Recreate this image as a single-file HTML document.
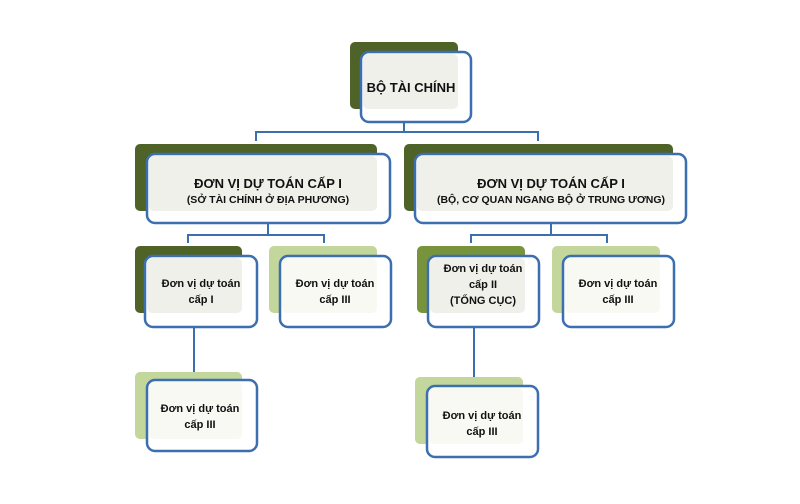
<!DOCTYPE html>
<html><head><meta charset="utf-8"><style>html,body{margin:0;padding:0;background:#fff}svg{display:block}text{font-family:"Liberation Sans",sans-serif;font-weight:bold;fill:#111;text-anchor:middle}</style></head><body>
<svg width="800" height="504" viewBox="0 0 800 504" xmlns="http://www.w3.org/2000/svg">
<g fill="none" stroke="#3b6fb0" stroke-width="2">
<polyline points="404,122 404,132"/><polyline points="256,141 256,132 538,132 538,141"/>
<polyline points="268,223 268,235"/><polyline points="188,243 188,235 324,235 324,243"/>
<polyline points="551,223 551,235"/><polyline points="471,243 471,235 607,235 607,243"/>
<line x1="194" y1="327" x2="194" y2="380"/><line x1="474" y1="327" x2="474" y2="386"/>
</g>
<!-- back boxes -->
<rect x="350" y="42" width="108" height="67" rx="5" fill="#4f6228"/>
<rect x="135" y="144" width="242" height="67" rx="5" fill="#4f6228"/>
<rect x="404" y="144" width="269" height="67" rx="5" fill="#4f6228"/>
<rect x="135" y="246" width="107" height="67" rx="5" fill="#4f6228"/>
<rect x="269" y="246" width="108" height="67" rx="5" fill="#c3d69b"/>
<rect x="417" y="246" width="108" height="67" rx="5" fill="#77933c"/>
<rect x="552" y="246" width="108" height="67" rx="5" fill="#c3d69b"/>
<rect x="135" y="372" width="107" height="67" rx="5" fill="#c3d69b"/>
<rect x="415" y="377" width="108" height="67" rx="5" fill="#c3d69b"/>
<!-- front boxes -->
<g stroke="#3b6fb0" stroke-width="2.5" fill="#fff">
<rect x="361" y="52" width="110" height="70" rx="8"/>
<rect x="147" y="154" width="243" height="69" rx="8"/>
<rect x="415" y="154" width="271" height="69" rx="8"/>
<rect x="145" y="256" width="112" height="71" rx="8"/>
<rect x="280" y="256" width="111" height="71" rx="8"/>
<rect x="428" y="256" width="111" height="71" rx="8"/>
<rect x="563" y="256" width="111" height="71" rx="8"/>
<rect x="147" y="380" width="110" height="71" rx="8"/>
<rect x="427" y="386" width="111" height="71" rx="8"/>
</g>
<!-- overlap tints -->
<g fill="#eef0e9">
<rect x="363" y="54" width="95" height="55" rx="5"/>
<rect x="149" y="156" width="228" height="55" rx="5"/>
<rect x="417" y="156" width="256" height="55" rx="5"/>
<rect x="147" y="258" width="95" height="55" rx="5"/>
<rect x="430" y="258" width="95" height="55" rx="5"/>
</g>
<g fill="#f7f9f2">
<rect x="282" y="258" width="95" height="55" rx="5"/>
<rect x="565" y="258" width="95" height="55" rx="5"/>
<rect x="149" y="382" width="93" height="57" rx="5"/>
<rect x="429" y="388" width="94" height="56" rx="5"/>
</g>
<text x="411" y="92" font-size="13">BỘ TÀI CHÍNH</text>
<text x="268" y="188" font-size="13">ĐƠN VỊ DỰ TOÁN CẤP I</text>
<text x="268" y="203" font-size="10.5">(SỞ TÀI CHÍNH Ở ĐỊA PHƯƠNG)</text>
<text x="551" y="188" font-size="13">ĐƠN VỊ DỰ TOÁN CẤP I</text>
<text x="551" y="203" font-size="10.5">(BỘ, CƠ QUAN NGANG BỘ Ở TRUNG ƯƠNG)</text>
<g font-size="11">
<text x="201" y="287">Đơn vị dự toán</text><text x="201" y="303">cấp I</text>
<text x="335" y="287">Đơn vị dự toán</text><text x="335" y="303">cấp III</text>
<text x="483" y="272">Đơn vị dự toán</text><text x="483" y="288">cấp II</text><text x="483" y="304">(TỔNG CỤC)</text>
<text x="618" y="287">Đơn vị dự toán</text><text x="618" y="303">cấp III</text>
<text x="200" y="412">Đơn vị dự toán</text><text x="200" y="428">cấp III</text>
<text x="482" y="419">Đơn vị dự toán</text><text x="482" y="435">cấp III</text>
</g>
</svg>
</body></html>
